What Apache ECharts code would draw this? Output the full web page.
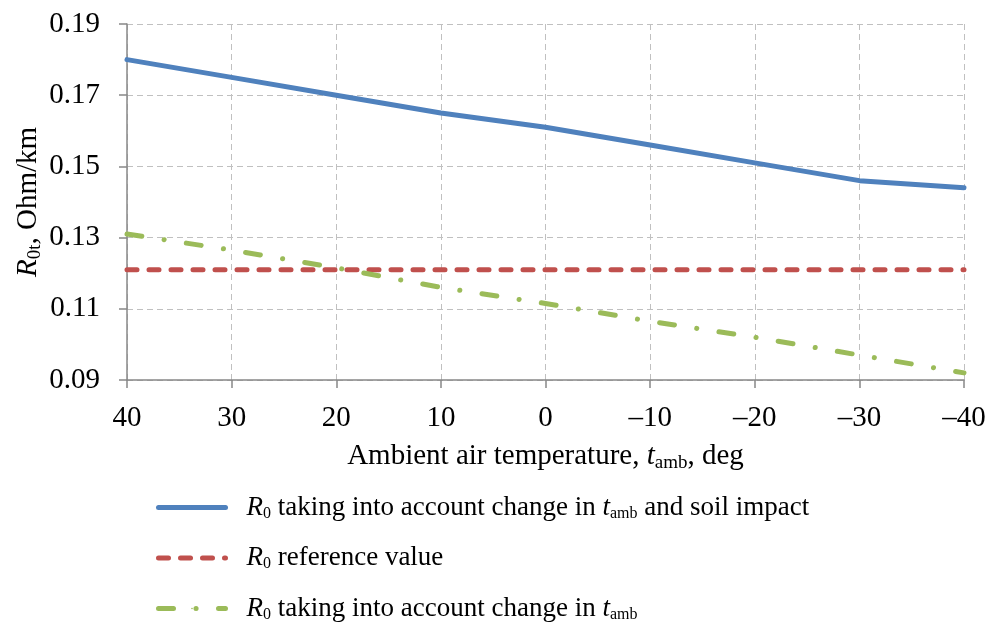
<!DOCTYPE html>
<html>
<head>
<meta charset="utf-8">
<script src="https://cdn.jsdelivr.net/npm/echarts@6/dist/echarts.min.js"></script>
<style>html,body{margin:0;padding:0;background:#fff}#c{width:993px;height:628px}</style>
</head>
<body>
<div id="c"></div>
<script>
const categories = ['40', '30', '20', '10', '0', '\u201310', '\u201320', '\u201330', '\u201340'];
const soilImpact = [0.180, 0.175, 0.170, 0.165, 0.161, 0.156, 0.151, 0.146, 0.144];
const referenceValue = [0.121, 0.121, 0.121, 0.121, 0.121, 0.121, 0.121, 0.121, 0.121];
const ambientOnly = [0.131, 0.1265, 0.1215, 0.116, 0.1115, 0.1065, 0.102, 0.097, 0.092];
const seriesNames = ['soil', 'ref', 'amb'];

const FONT = '"Liberation Serif", "Times New Roman", serif';
const chart = echarts.init(document.getElementById('c'));

const legendText = {
  soil: '{i|R}{s|0}{n| taking into account change in }{i|t}{s|amb}{n| and soil impact}',
  ref: '{i|R}{s|0}{n| reference value}',
  amb: '{i|R}{s|0}{n| taking into account change in }{i|t}{s|amb}'
};
const richLegend = {
  n: {fontSize: 27, fontFamily: FONT, color: '#000', lineHeight: 28},
  i: {fontSize: 27, fontFamily: FONT, fontStyle: 'italic', color: '#000', lineHeight: 28},
  s: {fontSize: 16, fontFamily: FONT, color: '#000', lineHeight: 6, verticalAlign: 'bottom'}
};
const richAxis = {
  n: {fontSize: 29, fontFamily: FONT, color: '#000', lineHeight: 34},
  i: {fontSize: 29, fontFamily: FONT, fontStyle: 'italic', color: '#000', lineHeight: 34},
  s: {fontSize: 19, fontFamily: FONT, color: '#000', lineHeight: 16, verticalAlign: 'bottom'}
};

chart.setOption({
  animation: false,
  backgroundColor: '#fff',
  grid: {left: 127, right: 29, top: 24, bottom: 248, containLabel: false},
  legend: {
    orient: 'vertical',
    left: 156,
    top: 494,
    padding: 0,
    itemWidth: 67,
    itemHeight: 2,
    itemGap: 23,
    data: seriesNames,
    formatter: function (n) { return legendText[n]; },
    lineStyle: {width: 5},
    textStyle: {rich: richLegend, padding: [0, 0, 0, 16]}
  },
  xAxis: {
    type: 'category',
    data: categories,
    boundaryGap: false,
    name: '{n|Ambient air temperature, }{i|t}{s|amb}{n|, deg}',
    nameLocation: 'middle',
    nameGap: 59,
    nameMoveOverlap: false,
    nameTextStyle: {rich: richAxis},
    axisLine: {lineStyle: {color: '#888', width: 1.5}},
    axisTick: {show: true, length: 8, alignWithLabel: true, lineStyle: {color: '#888', width: 1.5}},
    axisLabel: {fontSize: 29, fontFamily: FONT, color: '#000', margin: 24},
    splitLine: {show: true, lineStyle: {color: '#c0c0c0', type: [6, 4], width: 1}}
  },
  yAxis: {
    type: 'value',
    min: 0.09,
    max: 0.19,
    interval: 0.02,
    name: '{i|R}{s|0t}{n|, Ohm/km}',
    nameLocation: 'middle',
    nameGap: 82,
    nameMoveOverlap: false,
    nameRotate: 90,
    nameTextStyle: {rich: richAxis},
    axisLine: {show: true, lineStyle: {color: '#888', width: 1.5}},
    axisTick: {show: true, length: 8, lineStyle: {color: '#888', width: 1.5}},
    axisLabel: {fontSize: 29, fontFamily: FONT, color: '#000', margin: 27,
      formatter: function (v) { return v.toFixed(2); }},
    splitLine: {show: true, lineStyle: {color: '#c0c0c0', type: [6, 4], width: 1}}
  },
  series: [
    {name: 'soil', type: 'line', data: soilImpact, symbol: 'none', smooth: false,
      lineStyle: {color: '#4F81BD', width: 5, cap: 'round'}, itemStyle: {color: '#4F81BD'}, z: 3},
    {name: 'ref', type: 'line', data: referenceValue, symbol: 'none',
      lineStyle: {color: '#C0504D', width: 5, type: [10, 12], cap: 'round'}, itemStyle: {color: '#C0504D'}, z: 2},
    {name: 'amb', type: 'line', data: ambientOnly, symbol: 'none',
      lineStyle: {color: '#9BBB59', width: 5, type: [15, 22.5, 0.1, 22.4], cap: 'round'}, itemStyle: {color: '#9BBB59'}, z: 2}
  ]
});
</script>
</body>
</html>
